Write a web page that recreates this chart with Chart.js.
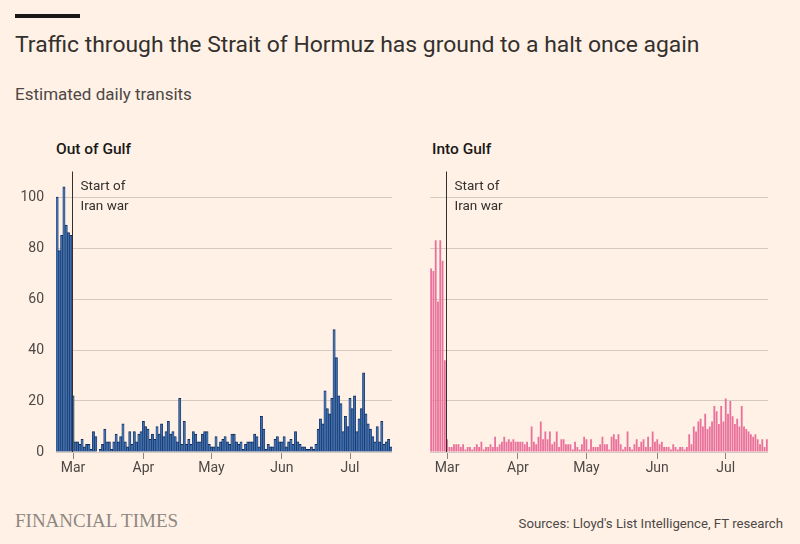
<!DOCTYPE html>
<html>
<head>
<meta charset="utf-8">
<script src="https://cdn.jsdelivr.net/npm/chart.js@4/dist/chart.umd.min.js"></script>
<style>
  html, body { margin: 0; padding: 0; }
  body { width: 800px; height: 544px; background: #FFF1E5; position: relative; overflow: hidden;
         font-family: Roboto, "Open Sans", sans-serif; color: #33302e; }
  .abs { position: absolute; white-space: nowrap; }
  #bar { left: 15px; top: 14px; width: 65px; height: 4px; background: #1a1817; }
  #title { left: 15px; top: 33px; font-size: 22.9px; line-height: 23px; }
  #subtitle { left: 15px; top: 86px; font-size: 17px; line-height: 17px; color: #4d4845; }
  .panel { top: 142px; font-size: 15.5px; line-height: 15px; font-weight: 500; color: #1a1817; }
  #brand { left: 15px; top: 512px; font-family: "Liberation Serif", "DejaVu Serif", serif; font-size: 19px;
           line-height: 18px; color: #8e8782; }
  #source { right: 17px; top: 517px; font-size: 13.2px; line-height: 13px; color: #4d4845; }
  canvas { position: absolute; }
</style>
</head>
<body>
<div id="bar" class="abs"></div>
<div id="title" class="abs">Traffic through the Strait of Hormuz has ground to a halt once again</div>
<div id="subtitle" class="abs">Estimated daily transits</div>
<div class="abs panel" style="left:56px">Out of Gulf</div>
<div class="abs panel" style="left:432px">Into Gulf</div>
<div id="brand" class="abs">FINANCIAL TIMES</div>
<div id="source" class="abs">Sources: Lloyd's List Intelligence, FT research</div>

<div style="position:absolute;left:0;top:160px;width:392px;height:320px"><canvas id="outChart"></canvas></div>
<div style="position:absolute;left:430px;top:160px;width:338px;height:320px"><canvas id="inChart"></canvas></div>

<script>
// --------------------------------------------------------------------------
// Data: estimated daily transits, one array per month (Feb starts on the 22nd)
// --------------------------------------------------------------------------
const monthNames = ['Feb', 'Mar', 'Apr', 'May', 'Jun', 'Jul'];
const monthFirstDay = [22, 1, 1, 1, 1, 1];
const yTicks = [0, 20, 40, 60, 80, 100];
const warLabel = ['Start of', 'Iran war'];
const warStartIndex = 7; // first day after the war began sits right of the line

const outFeb = [100, 79, 85, 104, 89, 86, 85];
const outMar = [22, 4, 4, 3, 5, 2, 3, 3, 1, 8, 6, 0, 1, 3, 9, 4, 4, 1, 4, 7, 4, 6, 11, 4, 2, 8, 3, 8, 4, 7, 8];
const outApr = [12, 10, 9, 5, 7, 5, 10, 7, 11, 6, 8, 12, 7, 8, 6, 4, 21, 3, 12, 3, 5, 3, 8, 7, 4, 4, 7, 8, 8, 3];
const outMay = [2, 2, 6, 2, 4, 5, 6, 4, 3, 7, 7, 4, 3, 4, 1, 3, 4, 4, 4, 7, 6, 2, 14, 9, 1, 3, 2, 2, 5, 6, 4];
const outJun = [4, 6, 2, 4, 5, 3, 8, 4, 3, 2, 2, 1, 1, 2, 1, 3, 9, 13, 11, 24, 17, 15, 21, 48, 37, 22, 19, 8, 14, 10];
const outJul = [21, 17, 22, 8, 13, 17, 31, 15, 11, 9, 6, 4, 10, 4, 12, 3, 4, 5, 2];

const inFeb = [72, 71, 83, 59, 83, 75, 36];
const inMar = [5, 2, 2, 3, 3, 3, 2, 3, 1, 2, 2, 1, 2, 3, 2, 4, 1, 2, 2, 3, 2, 6, 2, 3, 4, 6, 4, 5, 4, 5, 4];
const inApr = [4, 4, 4, 3, 4, 2, 10, 4, 3, 6, 12, 5, 8, 5, 8, 3, 4, 8, 2, 5, 5, 3, 3, 3, 1, 4, 2, 1, 3, 6];
const inMay = [5, 1, 5, 2, 2, 2, 3, 6, 3, 3, 1, 6, 7, 5, 7, 3, 1, 2, 8, 2, 1, 3, 5, 2, 4, 5, 2, 6, 2, 8, 4];
const inJun = [5, 3, 4, 2, 2, 2, 1, 3, 2, 1, 2, 2, 1, 2, 7, 3, 10, 8, 12, 13, 10, 15, 9, 10, 12, 18, 16, 11, 18, 12];
const inJul = [21, 15, 20, 14, 11, 13, 10, 18, 10, 9, 8, 7, 6, 7, 5, 3, 5, 2, 5];

const outMonths = [outFeb, outMar, outApr, outMay, outJun, outJul];
const inMonths = [inFeb, inMar, inApr, inMay, inJun, inJul];

// category labels like "Mar 1"
const labels = [];
const isMonthStart = [];
outMonths.forEach((arr, m) => {
    arr.forEach((_, i) => {
        const day = monthFirstDay[m] + i;
        labels.push(monthNames[m] + ' ' + day);
        isMonthStart.push(day === 1);
    });
});

const FONT = 'Roboto, "Open Sans", sans-serif';
const GRID = '#d5cbc1';
const TEXT = '#4d4845';

// vertical "Start of Iran war" line with its label
const warLine = {
    id: 'warLine',
    afterDatasetsDraw(chart) {
        const x = chart.scales.x;
        const area = chart.chartArea;
        const px = Math.round((x.getPixelForValue(warStartIndex - 1) + x.getPixelForValue(warStartIndex)) / 2) + 0.5;
        const c = chart.ctx;
        c.save();
        c.strokeStyle = '#33302e';
        c.lineWidth = 1;
        c.beginPath();
        c.moveTo(px, area.top);
        c.lineTo(px, area.bottom);
        c.stroke();
        c.fillStyle = '#33302e';
        c.font = '13.5px ' + FONT;
        c.textBaseline = 'middle';
        c.fillText(warLabel[0], px + 8, area.top + 15);
        c.fillText(warLabel[1], px + 8, area.top + 35);
        c.restore();
    }
};

function makeChart(id, months, fill, edge, showY) {
    const values = [].concat(...months);
    return new Chart(document.getElementById(id), {
        type: 'bar',
        data: {
            labels: labels,
            datasets: [{
                data: values,
                backgroundColor: fill,
                borderColor: edge,
                borderWidth: edge ? { top: 1, left: 0.6, right: 0.6, bottom: 0 } : 0,
                borderSkipped: 'bottom',
                barPercentage: edge ? 1 : 0.8,
                categoryPercentage: 1
            }]
        },
        options: {
            responsive: true,
            maintainAspectRatio: false,
            animation: false,
            layout: { padding: { top: 11.5, right: 0, left: 0, bottom: 0 } },
            plugins: { legend: { display: false }, tooltip: { enabled: false } },
            scales: {
                x: {
                    grid: {
                        offset: false,
                        drawOnChartArea: false,
                        drawTicks: true,
                        tickLength: 7,
                        color: ctx => isMonthStart[ctx.index] ? '#8a837e' : 'rgba(0,0,0,0)'
                    },
                    border: { display: false },
                    ticks: {
                        autoSkip: false,
                        maxRotation: 0,
                        padding: 1,
                        color: TEXT,
                        font: { family: FONT, size: 14 },
                        callback: (v, i) => isMonthStart[i] ? labels[i].split(' ')[0] : ''
                    },
                    afterFit: axis => { axis.height = 28; axis.paddingLeft = 0; axis.paddingRight = 0; }
                },
                y: {
                    min: 0,
                    max: 110,
                    afterBuildTicks: axis => { axis.ticks = yTicks.map(v => ({ value: v })); },
                    grid: { color: GRID, drawTicks: false, lineWidth: 1 },
                    border: { display: false },
                    ticks: {
                        display: showY,
                        padding: 12,
                        color: TEXT,
                        font: { family: FONT, size: 14 }
                    },
                    afterFit: axis => {
                        axis.width = showY ? 56 : 0;
                        axis.paddingTop = 0;
                        axis.paddingBottom = 0;
                    }
                }
            }
        },
        plugins: [warLine]
    });
}

document.addEventListener('DOMContentLoaded', function() {
    makeChart('outChart', outMonths, '#3f6dab', '#0f2c5c', true);
    makeChart('inChart', inMonths, '#ea719c', null, false);
});
</script>
</body>
</html>
